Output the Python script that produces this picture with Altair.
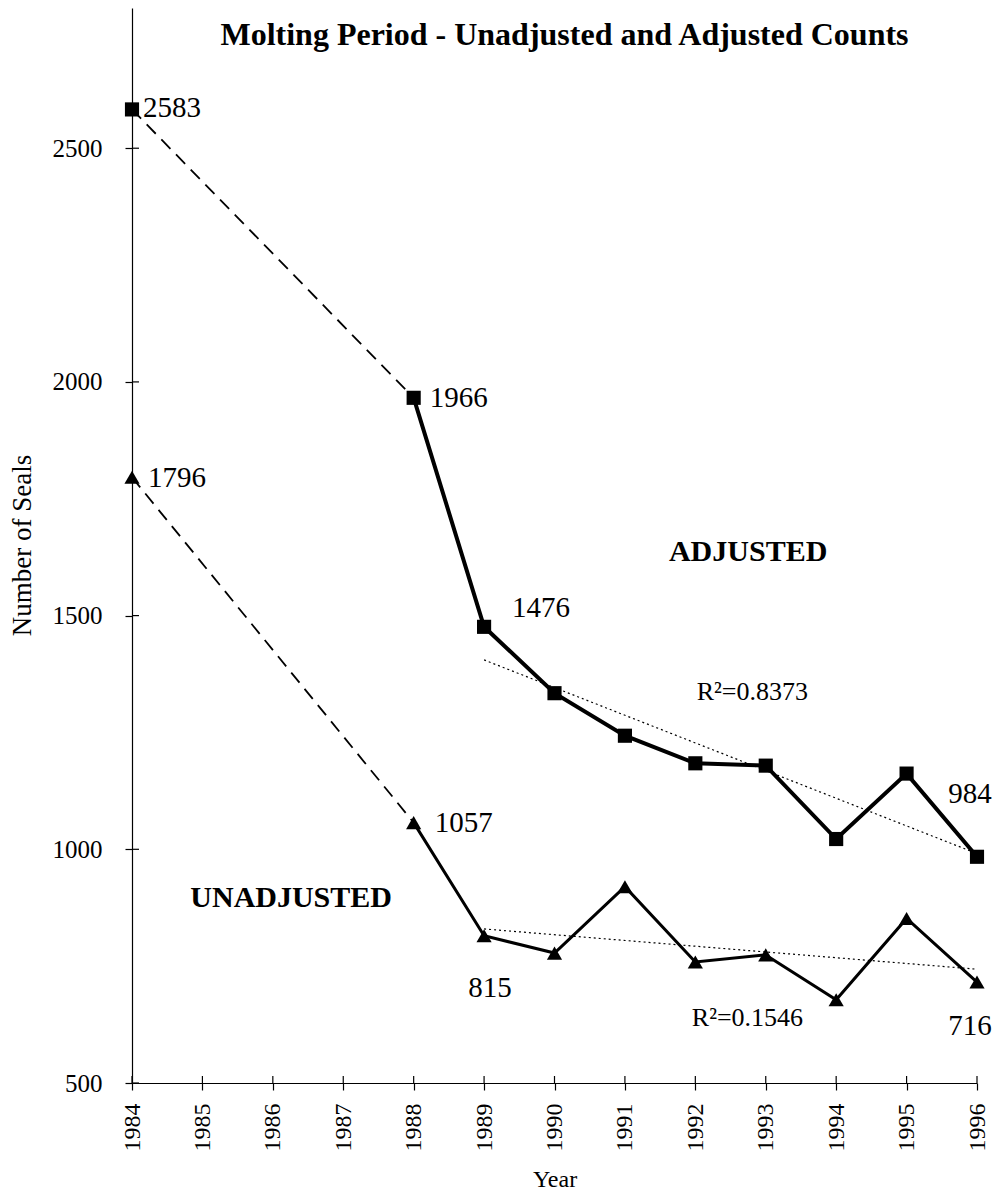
import altair as alt
import pandas as pd

# ---- data ----
years = [1984, 1988, 1989, 1990, 1991, 1992, 1993, 1994, 1995, 1996]
adjusted = [2583, 1966, 1476, 1334, 1243, 1184, 1179, 1022, 1162, 984]
unadjusted = [1796, 1057, 815, 778, 920, 759, 774, 678, 852, 716]
x_ticks = list(range(1984, 1997))
y_ticks = [500, 1000, 1500, 2000, 2500]
title_text = "Molting Period - Unadjusted and Adjusted Counts"
series_names = ["ADJUSTED", "UNADJUSTED"]
r2_texts = ["R²=0.8373", "R²=0.1546"]

FONT = "Liberation Serif"
W, H = 845, 1075

df_adj = pd.DataFrame({"year": years, "value": adjusted, "series": series_names[0]})
df_un = pd.DataFrame({"year": years, "value": unadjusted, "series": series_names[1]})
df_all = pd.concat([df_adj, df_un], ignore_index=True)

xs = alt.Scale(domain=[1984, 1996], nice=False, zero=False)
ys = alt.Scale(domain=[500, 2800], nice=False, zero=False)

x_axis = alt.Axis(values=x_ticks, format="d", labelAngle=-90, labelFontSize=24,
                  labelFont=FONT, titleFont=FONT,
                  labelPadding=13, tickSize=7, title="Year", titleFontSize=24,
                  titleFontWeight="normal", titleY=96, titleBaseline="middle",
                  grid=False, labelFlush=False, labelOverlap=False)
y_axis = alt.Axis(values=y_ticks, format="d", labelFontSize=25, labelPadding=23, tickSize=7,
                  labelFont=FONT, titleFont=FONT,
                  title="Number of Seals", titleFontSize=27, titleFontWeight="normal",
                  titleX=-110, titleY=537, titleBaseline="middle",
                  grid=False, labelFlush=False, labelOverlap=False)

X = alt.X("year:Q", scale=xs, axis=x_axis)
Y = alt.Y("value:Q", scale=ys, axis=y_axis)


def series_layers(df, width, shape, size):
    solid = alt.Chart(df).transform_filter(alt.datum.year >= 1988).mark_line(
        color="black", strokeWidth=width, strokeJoin="miter").encode(x=X, y=Y)
    dashed = alt.Chart(df).transform_filter(alt.datum.year <= 1988).mark_line(
        color="black", strokeWidth=1.8, strokeDash=[13, 8]).encode(x=X, y=Y)
    pts = alt.Chart(df).mark_point(shape=shape, filled=True, size=size, color="black",
                                   opacity=1).encode(x=X, y=Y)
    return [dashed, solid, pts]


trend = alt.Chart(df_all).transform_filter(alt.datum.year >= 1989).transform_regression(
    "year", "value", groupby=["series"], method="linear", extent=[1989, 1996]
).mark_line(color="black", strokeWidth=1.2, strokeDash=[2, 3]).encode(
    x=X, y=Y, detail="series:N")

# inner halves of the crossing tick marks
y_inner = alt.Chart(pd.DataFrame({"value": y_ticks})).mark_rule(
    color="black", strokeWidth=1.2).encode(y=Y, x=alt.value(0), x2=alt.value(7))
x_inner = alt.Chart(pd.DataFrame({"year": x_ticks})).mark_rule(
    color="black", strokeWidth=1.2).encode(x=X, y=alt.value(H - 7), y2=alt.value(H))


def label(year, value, **kw):
    d = pd.DataFrame({"year": [year], "value": [value], "txt": [str(value)]})
    return alt.Chart(d).mark_text(font=FONT, fontSize=29, color="black", **kw).encode(
        x=X, y=Y, text="txt:N")


adj_map = dict(zip(years, adjusted))
un_map = dict(zip(years, unadjusted))
labels = [
    label(1984, adj_map[1984], align="left", baseline="middle", dx=11, dy=-1),
    label(1988, adj_map[1988], align="left", baseline="middle", dx=16, dy=0),
    label(1989, adj_map[1989], align="left", baseline="middle", dx=28, dy=-19),
    label(1996, adj_map[1996], align="center", baseline="middle", dx=-7, dy=-63),
    label(1984, un_map[1984], align="left", baseline="middle", dx=16, dy=1),
    label(1988, un_map[1988], align="left", baseline="middle", dx=21, dy=0),
    label(1989, un_map[1989], align="center", baseline="middle", dx=6, dy=52),
    label(1996, un_map[1996], align="center", baseline="middle", dx=-7, dy=44),
]

ann = pd.DataFrame({
    "year": [1992.75, 1986.26],
    "value": [1636, 896],
    "txt": series_names,
})
ann_text = alt.Chart(ann).mark_text(font=FONT, fontSize=30, fontWeight="bold",
                                    color="black", align="center", baseline="middle"
                                    ).encode(x=X, y=Y, text="txt:N")

r2 = pd.DataFrame({"year": [1992.81, 1992.74], "value": [1336, 639], "txt": r2_texts})
r2_text = alt.Chart(r2).mark_text(font=FONT, fontSize=26, color="black", align="center",
                                  baseline="middle").encode(x=X, y=Y, text="txt:N")

layers = ([y_inner, x_inner]
          + series_layers(df_adj, 4, "square", 200)
          + series_layers(df_un, 3, "triangle-up", 230)
          + [trend, ann_text, r2_text] + labels)

chart = alt.layer(*layers).properties(
    width=W, height=H,
    autosize=alt.AutoSizeParams(type="none"),
    padding={"left": 124, "top": 0, "right": 15, "bottom": 112},
    background="white",
    title=alt.Title(title_text, font=FONT, fontSize=32, fontWeight="bold", color="black",
                    anchor="middle", dx=10, dy=59, offset=0, baseline="middle"),
).configure_view(stroke=None).configure_axis(
    domainColor="black", tickColor="black", labelColor="black", titleColor="black",
    labelFont=FONT, titleFont=FONT, domainWidth=1.2, tickWidth=1.2
)

chart.save("out.html", embed_options={"renderer": "svg", "actions": False})
